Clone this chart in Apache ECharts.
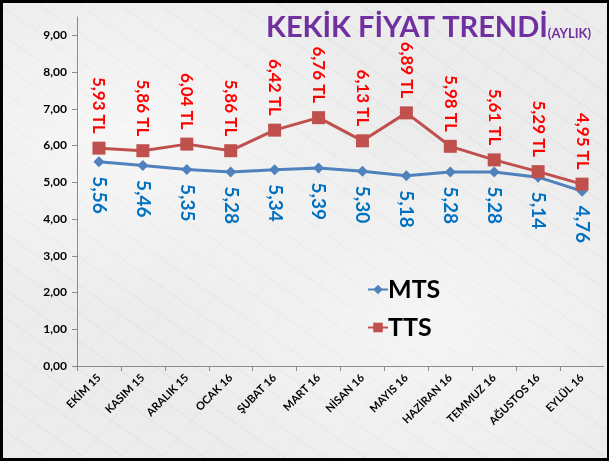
<!DOCTYPE html>
<html>
<head>
<meta charset="utf-8">
<script src="https://cdn.jsdelivr.net/npm/echarts@6/dist/echarts.min.js"></script>
<style>
  html, body { margin: 0; padding: 0; }
  #frame {
    width: 609px; height: 461px; box-sizing: border-box;
    border-top: 3px solid #000; border-left: 3px solid #000;
    border-bottom: 3px solid #000; border-right: 2px solid #000;
    background-color: #ececec;
    background-image:
      radial-gradient(ellipse at 20% 30%, rgba(255,255,255,0.6), rgba(255,255,255,0) 40%),
      radial-gradient(ellipse at 70% 70%, rgba(255,255,255,0.5), rgba(255,255,255,0) 45%),
      repeating-linear-gradient(35deg, rgba(0,0,0,0.025) 0 2px, rgba(0,0,0,0) 2px 23px),
      repeating-linear-gradient(-50deg, rgba(0,0,0,0.02) 0 1px, rgba(0,0,0,0) 1px 31px);
  }
  #chart { width: 604px; height: 455px; margin-left: -3px; margin-top: -3px; }
</style>
</head>
<body>
<div id="frame"><div id="chart"></div></div>
<script>
// Monthly thyme price trend, TL per kg
const months = ['EKİM 15', 'KASIM 15', 'ARALIK 15', 'OCAK 16', 'ŞUBAT 16', 'MART 16',
                'NİSAN 16', 'MAYIS 16', 'HAZİRAN 16', 'TEMMUZ 16', 'AĞUSTOS 16', 'EYLÜL 16'];
const mts = [5.56, 5.46, 5.35, 5.28, 5.34, 5.39, 5.30, 5.18, 5.28, 5.28, 5.14, 4.76];
const tts = [5.93, 5.86, 6.04, 5.86, 6.42, 6.76, 6.13, 6.89, 5.98, 5.61, 5.29, 4.95];

const FONT = 'Lato, "Open Sans", sans-serif';
const comma = v => v.toFixed(2).replace('.', ',');

const chart = echarts.init(document.getElementById('chart'), null, { renderer: 'canvas' });
chart.setOption({
  backgroundColor: 'transparent',
  animation: false,
  textStyle: { fontFamily: FONT },
  title: {
    text: '{a|KEKİK FİYAT TRENDİ}{b|(AYLIK)}',
    right: 8, top: 8,
    textStyle: {
      rich: {
        a: { fontFamily: FONT, fontSize: 29, fontWeight: 'bold', color: '#7030A0', verticalAlign: 'bottom' },
        b: { fontFamily: FONT, fontSize: 13, fontWeight: 'bold', color: '#7030A0', verticalAlign: 'bottom', padding: [0, 0, 2, 0] }
      }
    }
  },
  legend: {
    orient: 'vertical',
    left: 362, top: 272,
    itemWidth: 20, itemHeight: 12, itemGap: 13,
    textStyle: { fontFamily: FONT, fontSize: 25, fontWeight: 'bold', color: '#000', padding: [0, 0, 0, -5] },
    data: ['MTS', 'TTS']
  },
  grid: { left: 77, right: 0, top: 17, bottom: 89, containLabel: false },
  xAxis: {
    type: 'category',
    data: months,
    boundaryGap: true,
    axisLine: { lineStyle: { color: '#8c8c8c', width: 1 } },
    axisTick: { show: true, length: 5, lineStyle: { color: '#8c8c8c' } },
    axisLabel: {
      rotate: 45, margin: 10, interval: 0,
      fontFamily: FONT, fontSize: 11, fontWeight: 'bold', color: '#000'
    }
  },
  yAxis: {
    type: 'value',
    min: 0, max: 9.5, interval: 1,
    splitLine: { show: false },
    axisLine: { show: true, lineStyle: { color: '#8c8c8c', width: 1 } },
    axisTick: { show: true, length: 5, lineStyle: { color: '#8c8c8c' } },
    axisLabel: {
      margin: 10, showMaxLabel: false,
      fontFamily: FONT, fontSize: 12, fontWeight: 'bold', color: '#000',
      formatter: v => (v > 9 ? '' : comma(v))
    }
  },
  series: [
    {
      name: 'MTS', type: 'line', data: mts,
      symbol: 'diamond', symbolSize: 11,
      lineStyle: { color: '#4F81BD', width: 3 },
      itemStyle: { color: '#4F81BD' },
      label: {
        show: true, position: 'bottom', distance: 9, rotate: -90,
        align: 'left', verticalAlign: 'middle',
        fontFamily: FONT, fontSize: 19, fontWeight: 'bold', color: '#0070C0',
        formatter: p => comma(p.value)
      },
      z: 2
    },
    {
      name: 'TTS', type: 'line', data: tts,
      symbol: 'rect', symbolSize: 13,
      lineStyle: { color: '#C0504D', width: 3 },
      itemStyle: { color: '#C0504D' },
      label: {
        show: true, position: 'top', distance: 8, rotate: -90,
        align: 'right', verticalAlign: 'middle',
        fontFamily: FONT, fontSize: 17, fontWeight: 'bold', color: '#FF0000',
        formatter: p => comma(p.value) + ' TL'
      },
      z: 3
    }
  ]
});
</script>
</body>
</html>
